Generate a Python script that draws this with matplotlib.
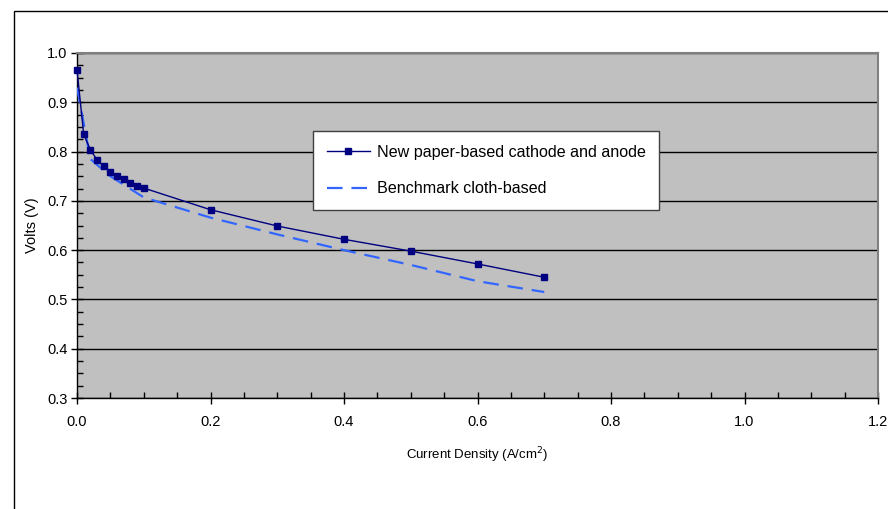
import matplotlib
matplotlib.use('Agg')
import matplotlib.pyplot as plt
from matplotlib.patches import Rectangle
from matplotlib.ticker import MultipleLocator, FormatStrFormatter

plt.rcParams['font.family'] = ['Liberation Sans', 'DejaVu Sans']

# new paper-based cathode and anode
paper_x = [0.0, 0.01, 0.02, 0.03, 0.04, 0.05, 0.06, 0.07, 0.08, 0.09, 0.1,
           0.2, 0.3, 0.4, 0.5, 0.6, 0.7]
paper_v = [0.966, 0.835, 0.804, 0.783, 0.770, 0.758, 0.750, 0.744, 0.737, 0.730, 0.726,
           0.682, 0.649, 0.622, 0.598, 0.572, 0.545]

# benchmark cloth-based
cloth_x = [0.0, 0.02, 0.05, 0.1, 0.2, 0.3, 0.4, 0.5, 0.6, 0.7]
cloth_v = [0.93, 0.785, 0.75, 0.707, 0.666, 0.632, 0.600, 0.570, 0.537, 0.515]

labels = ['New paper-based cathode and anode', 'Benchmark cloth-based']

W, H = 888, 509
fig = plt.figure(figsize=(W / 100, H / 100), dpi=100)

# outer chart area border (clipped at right/bottom like the original)
fig.patches.append(Rectangle((14 / W, -0.2), 1.2, 1 - 11 / H + 0.2,
                             transform=fig.transFigure, fill=False,
                             edgecolor='black', linewidth=1.0))

ax = fig.add_axes([77 / W, 1 - 398 / H, (878 - 77) / W, (398 - 53) / H])
ax.set_facecolor('#C0C0C0')

ax.plot(paper_x, paper_v, color='#000080', lw=1.0, marker='s', ms=4.5,
        mec='#000080', mfc='#000080', label=labels[0], zorder=4, clip_on=False)
ax.plot(cloth_x, cloth_v, color='#3366FF', lw=1.6, dashes=(7, 4),
        label=labels[1], zorder=3)

ax.set_xlim(0, 1.2)
ax.set_ylim(0.3, 1.0)
ax.xaxis.set_major_locator(MultipleLocator(0.2))
ax.xaxis.set_minor_locator(MultipleLocator(0.05))
ax.yaxis.set_major_locator(MultipleLocator(0.1))
ax.yaxis.set_minor_locator(MultipleLocator(0.025))
ax.xaxis.set_major_formatter(FormatStrFormatter('%.1f'))
ax.yaxis.set_major_formatter(FormatStrFormatter('%.1f'))
ax.tick_params(which='major', direction='inout', length=8, width=1, labelsize=10.5, pad=8)
ax.tick_params(which='minor', direction='in', length=4, width=1)
ax.tick_params(axis='y', which='major', pad=3)

ax.grid(axis='y', which='major', color='black', lw=1.0)
ax.set_axisbelow(True)

for s in ['top', 'right']:
    ax.spines[s].set_color('#808080')
    ax.spines[s].set_linewidth(1.5)
for s in ['left', 'bottom']:
    ax.spines[s].set_color('black')
    ax.spines[s].set_linewidth(1.0)

ax.set_xlabel('Current Density (A/cm$^2$)', fontsize=9.5, labelpad=12)
ax.set_ylabel('Volts (V)', fontsize=10.5, labelpad=6)

leg = ax.legend(loc='upper left', bbox_to_anchor=(313 / W, 1 - 131 / H),
                bbox_transform=fig.transFigure, fontsize=11.6, frameon=True,
                fancybox=False, framealpha=1, edgecolor='#404040',
                handlelength=2.7, labelspacing=1.35, borderpad=0.85,
                handletextpad=0.4, borderaxespad=0)
leg.get_frame().set_linewidth(1.0)
leg.legend_handles[0].set_markersize(4)

fig.savefig('out.png', dpi=100)
